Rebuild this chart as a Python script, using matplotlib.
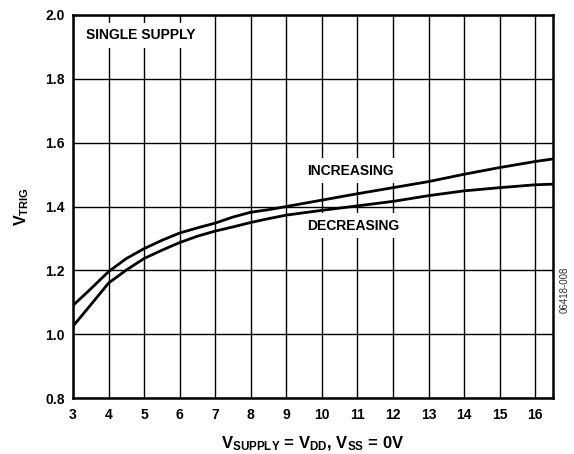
import matplotlib
matplotlib.use("Agg")
import matplotlib.pyplot as plt

plt.rcParams['font.family'] = ['Liberation Sans', 'DejaVu Sans']
plt.rcParams['mathtext.fontset'] = 'custom'
plt.rcParams['mathtext.rm'] = 'Liberation Sans'
plt.rcParams['mathtext.bf'] = 'Liberation Sans:bold'
plt.rcParams['mathtext.it'] = 'Liberation Sans:italic'
plt.rcParams['mathtext.sf'] = 'Liberation Sans'

supply_v = [3, 3.5, 4, 4.5, 5, 5.5, 6, 6.5, 7, 7.5, 8, 8.5, 9, 10, 11, 12,
            13, 14, 15, 16, 16.5]
vtrig_increasing = [1.090, 1.142, 1.196, 1.237, 1.268, 1.294, 1.317, 1.333,
                    1.348, 1.367, 1.382, 1.390, 1.400, 1.420, 1.440, 1.459,
                    1.478, 1.501, 1.522, 1.541, 1.549]
vtrig_decreasing = [1.025, 1.092, 1.160, 1.201, 1.237, 1.263, 1.287, 1.307,
                    1.323, 1.336, 1.350, 1.362, 1.373, 1.388, 1.402, 1.416,
                    1.434, 1.449, 1.459, 1.468, 1.470]
x_ticks = list(range(3, 17))
y_ticks = [0.8, 1.0, 1.2, 1.4, 1.6, 1.8, 2.0]

fig = plt.figure(figsize=(5.74, 4.54), dpi=100)
ax = fig.add_axes([73/574, 1-398/454, (553-73)/574, (398-15)/454])

for series in (vtrig_increasing, vtrig_decreasing):
    ax.plot(supply_v, series, color='black', lw=2.0, zorder=4,
            solid_joinstyle='round', solid_capstyle='butt')

ax.set_xlim(3, 16.5)
ax.set_ylim(0.8, 2.0)
ax.set_xticks(x_ticks)
ax.set_yticks(y_ticks)
ax.set_yticklabels([f"{v:.1f}" for v in y_ticks])
ax.grid(True, color='black', lw=1.0, zorder=1)
ax.set_axisbelow(True)
ax.tick_params(axis='x', length=0, pad=7, labelsize=10)
ax.tick_params(axis='y', length=0, pad=6, labelsize=10)
for lbl in ax.get_xticklabels() + ax.get_yticklabels():
    lbl.set_fontweight('bold')
for s in ax.spines.values():
    s.set_linewidth(1.8)
    s.set_zorder(5)

box = dict(facecolor='white', edgecolor='none', pad=4)
ax.text(3.36, 1.937, "SINGLE SUPPLY", fontsize=10, fontweight='bold',
        va='center', ha='left', bbox=box, zorder=3)
ax.text(9.59, 1.512, "INCREASING", fontsize=10, fontweight='bold',
        va='center', ha='left', bbox=box, zorder=3)
ax.text(9.59, 1.340, "DECREASING", fontsize=10, fontweight='bold',
        va='center', ha='left', bbox=box, zorder=3)

ax.set_ylabel(r"$\mathbf{V_{TRIG}}$", fontsize=11.5, labelpad=10)
ax.set_xlabel(r"$\mathbf{V_{SUPPLY}}$ = $\mathbf{V_{DD}}$, $\mathbf{V_{SS}}$ = 0V",
              fontsize=12, fontweight='bold', labelpad=9)

fig.text(565/574, 1-290/454, "06418-008", rotation=90, fontsize=7,
         ha='center', va='center', color='#333333')

fig.savefig("out.png", dpi=100)
